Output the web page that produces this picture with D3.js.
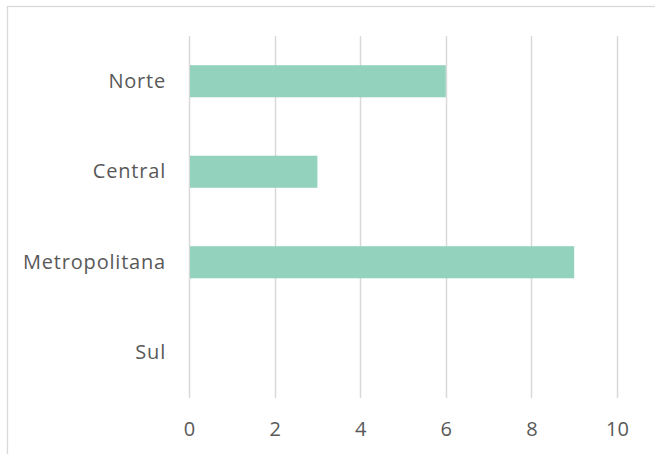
<!DOCTYPE html>
<html>
<head>
<meta charset="utf-8">
<script src="https://cdn.jsdelivr.net/npm/d3@7"></script>
<style>
  body { margin: 0; background: #fff; }
  svg { display: block; font-family: "Open Sans", Calibri, sans-serif; }
</style>
</head>
<body>
<div id="chart"></div>
<script>
// data
var regions = ['Norte', 'Central', 'Metropolitana', 'Sul'];
var counts = [6, 3, 9, 0];
var xTicks = [0, 2, 4, 6, 8, 10];

var W = 655, H = 454;
var margin = { top: 36, right: 38, bottom: 56, left: 189 };
var width = W - margin.left - margin.right,
    height = H - margin.top - margin.bottom;

var svg = d3.select('#chart')
  .append('svg')
  .attr('width', W)
  .attr('height', H);

// chart area border (runs off the right and bottom edges)
svg.append('rect')
  .attr('x', 7.5)
  .attr('y', 6.5)
  .attr('width', W + 20)
  .attr('height', H + 20)
  .attr('fill', 'none')
  .attr('stroke', '#d9d9d9')
  .attr('stroke-width', 1.3);

var g = svg.append('g')
  .attr('transform', 'translate(' + margin.left + ',' + margin.top + ')');

var xScale = d3.scaleLinear()
  .domain([0, 10])
  .range([0, width]);

var yScale = d3.scaleBand()
  .domain(regions)
  .range([0, height])
  .paddingInner(0.646)
  .paddingOuter(0.323);

// gridlines
g.selectAll('.grid')
  .data(xTicks)
  .enter()
  .append('line')
  .attr('x1', function(d) { return Math.round(xScale(d)) + 0.5; })
  .attr('x2', function(d) { return Math.round(xScale(d)) + 0.5; })
  .attr('y1', 0)
  .attr('y2', height)
  .attr('stroke', '#d9d9d9')
  .attr('stroke-width', 1.5);

// bars
g.selectAll('.bar')
  .data(regions)
  .enter()
  .append('rect')
  .attr('x', xScale(0) + 1)
  .attr('y', function(d) { return yScale(d); })
  .attr('width', function(d, i) { return Math.max(0, xScale(counts[i]) - xScale(0) - 1); })
  .attr('height', yScale.bandwidth())
  .attr('fill', '#93d2bc');

// x axis labels
var xAxis = d3.axisBottom(xScale)
  .tickValues(xTicks)
  .tickSize(0)
  .tickPadding(24);

g.append('g')
  .attr('transform', 'translate(0,' + height + ')')
  .call(xAxis)
  .call(function(a) { a.select('.domain').remove(); })
  .selectAll('text')
  .attr('fill', '#595959')
  .style('font-size', '20px')
  .style('font-family', '"Open Sans", sans-serif');

// y axis labels
var yAxis = d3.axisLeft(yScale)
  .tickSize(0)
  .tickPadding(23);

g.append('g')
  .call(yAxis)
  .call(function(a) { a.select('.domain').remove(); })
  .selectAll('text')
  .attr('fill', '#595959')
  .style('font-size', '20px')
  .style('letter-spacing', '0.8px')
  .style('font-family', '"Open Sans", sans-serif');
</script>
</body>
</html>
